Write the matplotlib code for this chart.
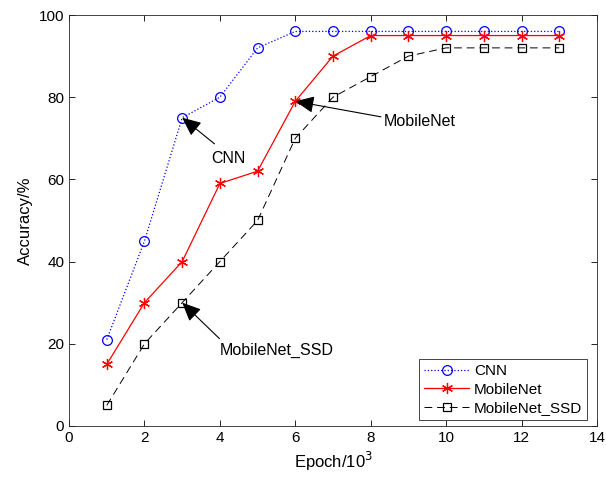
import matplotlib
matplotlib.use("Agg")
import numpy as np
from matplotlib import pyplot as plt

plt.rcParams['font.family'] = ['Liberation Sans', 'DejaVu Sans']

epoch = [1, 2, 3, 4, 5, 6, 7, 8, 9, 10, 11, 12, 13]
cnn = [21, 45, 75, 80, 92, 96, 96, 96, 96, 96, 96, 96, 96]
mobilenet = [15, 30, 40, 59, 62, 79, 90, 95, 95, 95, 95, 95, 95]
mobilenet_ssd = [5, 20, 30, 40, 50, 70, 80, 85, 90, 92, 92, 92, 92]

fig = plt.figure(figsize=(6.06, 4.84), dpi=100)
ax = fig.add_axes([0.114, 0.12, 0.871, 0.849])

ax.plot(epoch, cnn, color='blue', linestyle=':', linewidth=0.9, marker='o',
        markersize=7, markerfacecolor='none', markeredgewidth=0.9, label='CNN')
ax.plot(epoch, mobilenet, color='red', linestyle='-', linewidth=0.9, marker=(6, 2, 0),
        markersize=8, markeredgewidth=0.9, label='MobileNet')
ax.plot(epoch, mobilenet_ssd, color='black', linestyle=(0, (8, 5)), linewidth=0.7, marker='s',
        markersize=6, markerfacecolor='none', markeredgewidth=0.9, label='MobileNet_SSD')

# 矢印付き注釈
arrow = dict(arrowstyle='-|>,head_length=1.0,head_width=0.45', color='black', lw=0.8,
             shrinkA=0, shrinkB=0)
ax.annotate('CNN', xy=(3, 75), xytext=(4.22, 65), ha='center', va='center',
            fontsize=11.5, arrowprops=dict(arrow, relpos=(0.1, 1.5)))
ax.annotate('MobileNet', xy=(6, 79), xytext=(9.3, 74), ha='center', va='center',
            fontsize=11.5, arrowprops=dict(arrow, relpos=(0.0, 0.8)))
ax.annotate('MobileNet_SSD', xy=(3, 30), xytext=(5.5, 18.3), ha='center', va='center',
            fontsize=11.5, arrowprops=dict(arrow, relpos=(0.0, 1.3)))

ax.set_xlim(0, 14)
ax.set_ylim(0, 100)
ax.set_xticks(np.arange(0, 15, 2))
ax.set_yticks(np.arange(0, 101, 20))
ax.tick_params(direction='in', top=True, right=True, labelsize=11, length=4, width=0.6)
for s in ax.spines.values():
    s.set_linewidth(0.6)
    s.set_color('#262626')

ax.set_xlabel('Epoch/10$^3$', fontsize=12)
ax.set_ylabel('Accuracy/%', fontsize=12)

leg = ax.legend(loc='lower right', fontsize=11, fancybox=False, framealpha=1,
                edgecolor='#262626', bbox_to_anchor=(0.981, 0.015), borderaxespad=0,
                handlelength=3.0, handletextpad=0.3, labelspacing=0.3, borderpad=0.3)
leg.get_frame().set_linewidth(0.6)

plt.savefig('out.png', dpi=100)
